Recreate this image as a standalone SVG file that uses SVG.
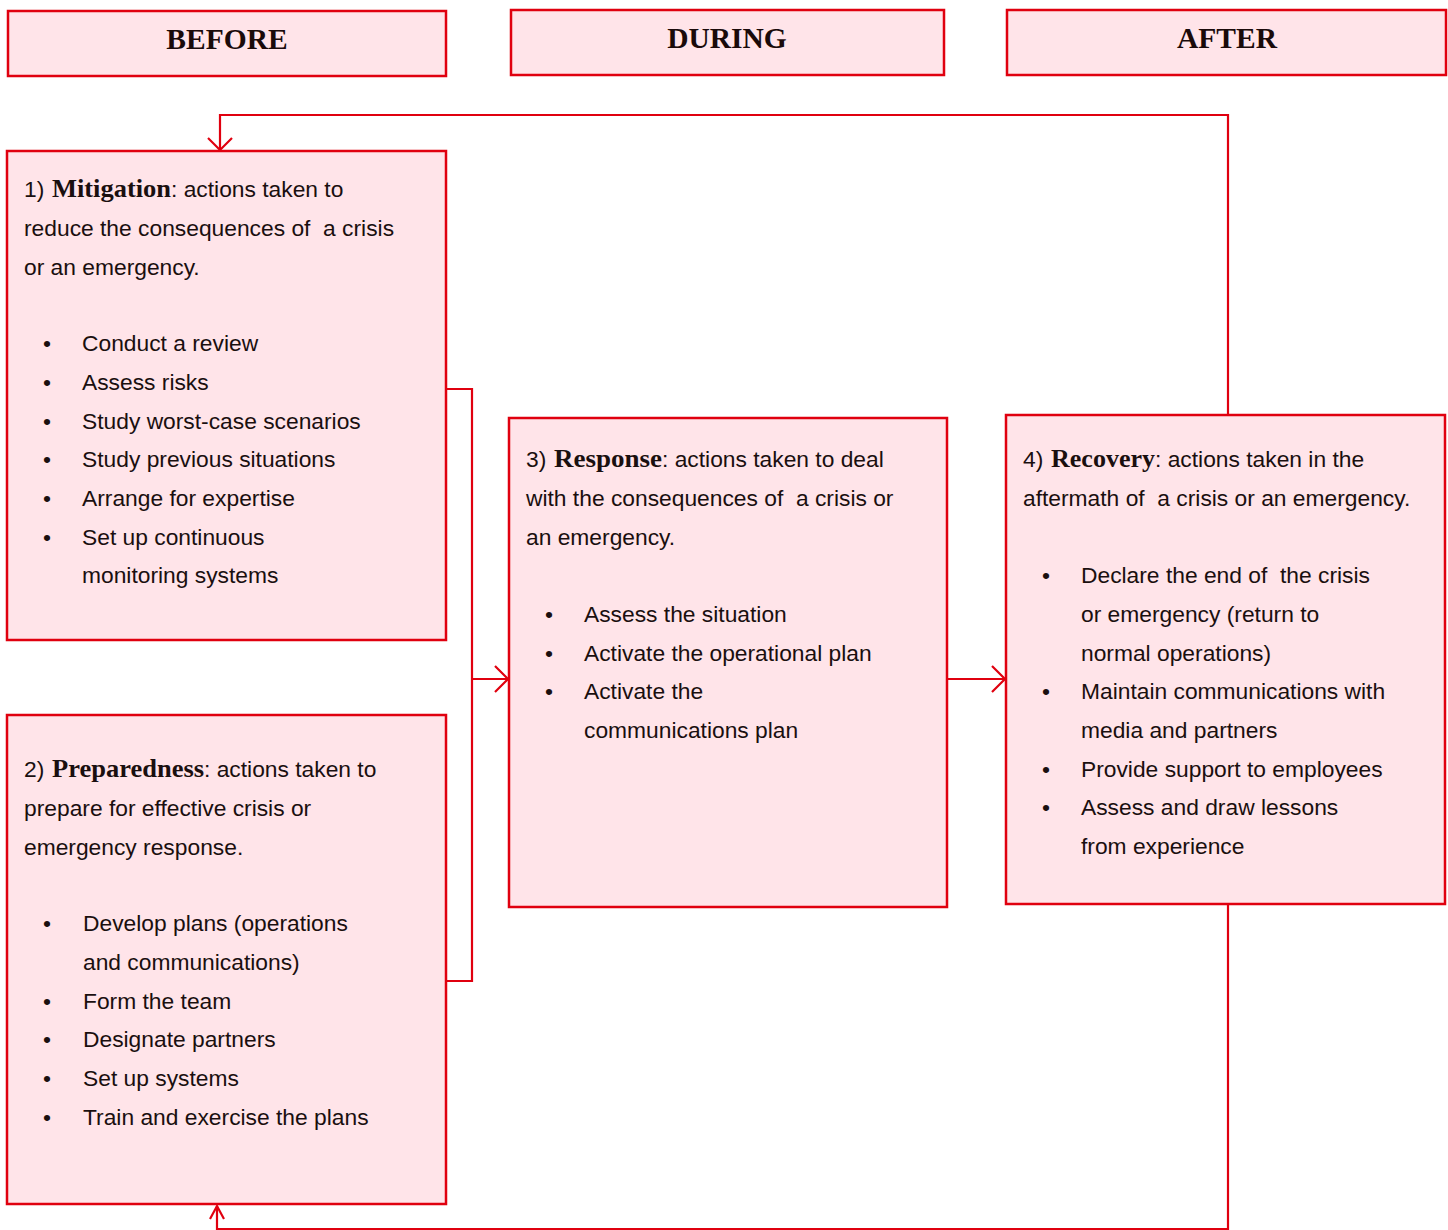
<svg xmlns="http://www.w3.org/2000/svg" width="1448" height="1230" viewBox="0 0 1448 1230">
<style>
.box{fill:#ffe4e9;stroke:#e0000f;stroke-width:2.5}
.hdr{font-family:"Liberation Serif",serif;font-weight:bold;font-size:29.5px;fill:#1a0a0a;text-anchor:middle}
.t{font-family:"Liberation Sans",Arial,sans-serif;font-size:22.8px;fill:#1a0f0f}
.b{font-family:"Liberation Serif",serif;font-weight:bold;font-size:26px}
.ln{fill:none;stroke:#e0000f;stroke-width:2.2}
</style>
<rect width="1448" height="1230" fill="#ffffff"/>
<g id="hdr-before"><rect class="box" x="8" y="11" width="438" height="65"/><text class="hdr" x="227" y="49">BEFORE</text></g>
<g id="hdr-during"><rect class="box" x="511" y="10" width="433" height="65"/><text class="hdr" x="727" y="48">DURING</text></g>
<g id="hdr-after"><rect class="box" x="1007" y="10" width="439" height="65"/><text class="hdr" x="1227" y="48">AFTER</text></g>

<g id="connectors">
<polyline class="ln" points="1228,415 1228,115 220,115 220,150"/>
<polyline class="ln" points="208,138 220,150 232,138"/>
<polyline class="ln" points="446,389 472,389 472,981 446,981"/>
<polyline class="ln" points="472,679 508,679"/>
<polyline class="ln" points="495,666 508,679 495,692"/>
<polyline class="ln" points="947,679 1005,679"/>
<polyline class="ln" points="992,666 1005,679 992,692"/>
<polyline class="ln" points="1228,904 1228,1229 217,1229 217,1206" stroke-width="1.6"/>
<polyline class="ln" points="210,1219 217,1206 224,1219"/>
</g>

<g id="mitigation">
<rect class="box" x="7" y="151" width="439" height="489"/>
<text class="t" y="197"><tspan x="24">1) </tspan><tspan class="b" x="52" textLength="119" lengthAdjust="spacingAndGlyphs">Mitigation</tspan><tspan x="171">: actions taken to</tspan></text>
<text class="t" x="24" y="236" xml:space="preserve">reduce the consequences of  a crisis</text>
<text class="t" x="24" y="275">or an emergency.</text>
<text class="t" y="351"><tspan x="43">•</tspan><tspan x="82">Conduct a review</tspan></text>
<text class="t" y="390"><tspan x="43">•</tspan><tspan x="82">Assess risks</tspan></text>
<text class="t" y="429"><tspan x="43">•</tspan><tspan x="82">Study worst-case scenarios</tspan></text>
<text class="t" y="467"><tspan x="43">•</tspan><tspan x="82">Study previous situations</tspan></text>
<text class="t" y="506"><tspan x="43">•</tspan><tspan x="82">Arrange for expertise</tspan></text>
<text class="t" y="545"><tspan x="43">•</tspan><tspan x="82">Set up continuous</tspan></text>
<text class="t" x="82" y="583">monitoring systems</text>
</g>

<g id="preparedness">
<rect class="box" x="7" y="715" width="439" height="489"/>
<text class="t" y="777"><tspan x="24">2) </tspan><tspan class="b" x="52" textLength="152" lengthAdjust="spacingAndGlyphs">Preparedness</tspan><tspan x="204">: actions taken to</tspan></text>
<text class="t" x="24" y="816">prepare for effective crisis or</text>
<text class="t" x="24" y="855">emergency response.</text>
<text class="t" y="931"><tspan x="43">•</tspan><tspan x="83">Develop plans (operations</tspan></text>
<text class="t" x="83" y="970">and communications)</text>
<text class="t" y="1009"><tspan x="43">•</tspan><tspan x="83">Form the team</tspan></text>
<text class="t" y="1047"><tspan x="43">•</tspan><tspan x="83">Designate partners</tspan></text>
<text class="t" y="1086"><tspan x="43">•</tspan><tspan x="83">Set up systems</tspan></text>
<text class="t" y="1125"><tspan x="43">•</tspan><tspan x="83">Train and exercise the plans</tspan></text>
</g>

<g id="response">
<rect class="box" x="509" y="418" width="438" height="489"/>
<text class="t" y="467"><tspan x="526">3) </tspan><tspan class="b" x="554" textLength="108" lengthAdjust="spacingAndGlyphs">Response</tspan><tspan x="662">: actions taken to deal</tspan></text>
<text class="t" x="526" y="506" xml:space="preserve">with the consequences of  a crisis or</text>
<text class="t" x="526" y="545">an emergency.</text>
<text class="t" y="622"><tspan x="545">•</tspan><tspan x="584">Assess the situation</tspan></text>
<text class="t" y="661"><tspan x="545">•</tspan><tspan x="584">Activate the operational plan</tspan></text>
<text class="t" y="699"><tspan x="545">•</tspan><tspan x="584">Activate the</tspan></text>
<text class="t" x="584" y="738">communications plan</text>
</g>

<g id="recovery">
<rect class="box" x="1006" y="415" width="439" height="489"/>
<text class="t" y="467"><tspan x="1023">4) </tspan><tspan class="b" x="1051" textLength="104" lengthAdjust="spacingAndGlyphs">Recovery</tspan><tspan x="1155">: actions taken in the</tspan></text>
<text class="t" x="1023" y="506" xml:space="preserve">aftermath of  a crisis or an emergency.</text>
<text class="t" y="583" xml:space="preserve"><tspan x="1042">•</tspan><tspan x="1081">Declare the end of  the crisis</tspan></text>
<text class="t" x="1081" y="622">or emergency (return to</text>
<text class="t" x="1081" y="661">normal operations)</text>
<text class="t" y="699"><tspan x="1042">•</tspan><tspan x="1081">Maintain communications with</tspan></text>
<text class="t" x="1081" y="738">media and partners</text>
<text class="t" y="777"><tspan x="1042">•</tspan><tspan x="1081">Provide support to employees</tspan></text>
<text class="t" y="815"><tspan x="1042">•</tspan><tspan x="1081">Assess and draw lessons</tspan></text>
<text class="t" x="1081" y="854">from experience</text>
</g>
</svg>
